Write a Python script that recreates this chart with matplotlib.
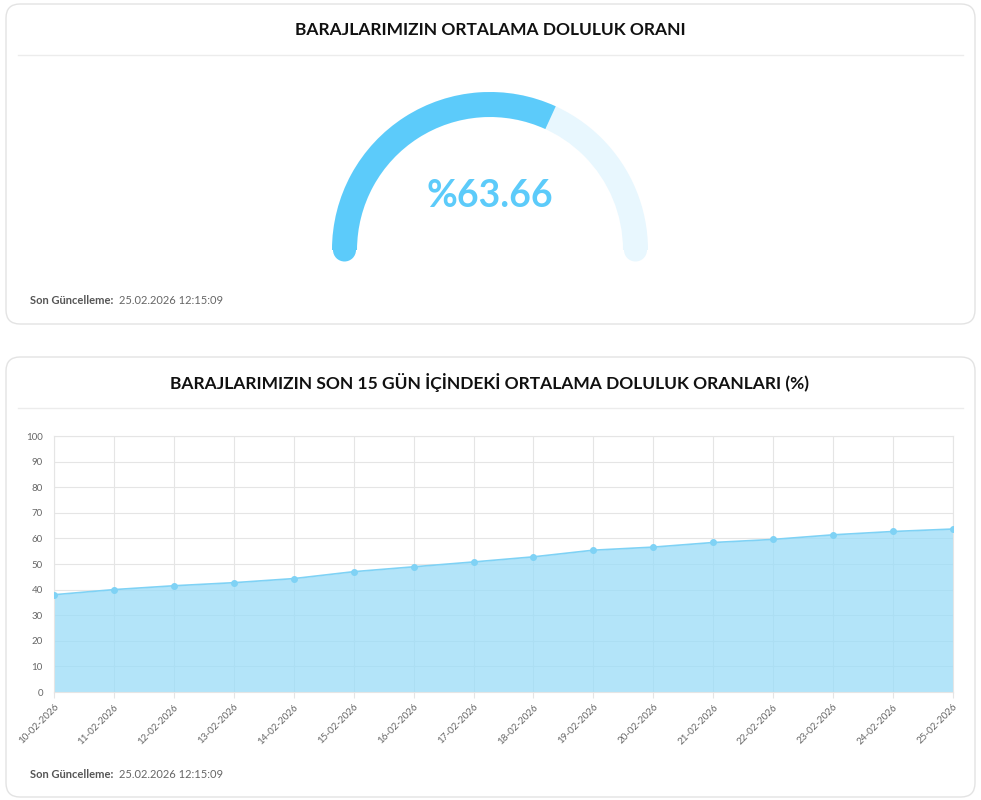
import matplotlib
matplotlib.use("Agg")
import matplotlib.pyplot as plt
from matplotlib.patches import FancyBboxPatch, Wedge, Circle
import numpy as np

plt.rcParams["font.family"] = ["Lato", "DejaVu Sans"]

DATES = ["10-02-2026", "11-02-2026", "12-02-2026", "13-02-2026", "14-02-2026",
         "15-02-2026", "16-02-2026", "17-02-2026", "18-02-2026", "19-02-2026",
         "20-02-2026", "21-02-2026", "22-02-2026", "23-02-2026", "24-02-2026",
         "25-02-2026"]
VALUES = [38.0, 40.0, 41.5, 42.7, 44.3, 47.0, 48.9, 50.8, 52.8, 55.4,
          56.6, 58.4, 59.6, 61.4, 62.7, 63.66]
GAUGE = 63.66

BLUE = "#5ccbfa"
TRACK = "#e8f7fe"
fig = plt.figure(figsize=(9.81, 8.0), dpi=100, facecolor="white")
bg = fig.add_axes([0, 0, 1, 1])
bg.set_xlim(0, 981)
bg.set_ylim(800, 0)
bg.axis("off")

# cards
for y0, y1 in [(4, 324), (357, 797)]:
    bg.add_patch(FancyBboxPatch((6, y0), 969, y1 - y0, boxstyle="round,pad=0,rounding_size=14",
                                facecolor="white", edgecolor="#e3e3e3", lw=1))
bg.plot([18, 963], [55, 55], color="#ececec", lw=1)
bg.plot([18, 963], [408, 408], color="#ececec", lw=1)

bg.text(490, 30, "BARAJLARIMIZIN ORTALAMA DOLULUK ORANI", ha="center", va="center",
        fontsize=12.5, fontweight="bold", color="#111111")
bg.text(490, 383, "BARAJLARIMIZIN SON 15 GÜN İÇİNDEKİ ORTALAMA DOLULUK ORANLARI (%)",
        ha="center", va="center", fontsize=12.5, fontweight="bold", color="#111111")
for yy in [301, 774]:
    bg.text(30, yy, "Son Güncelleme:", ha="left", va="center", fontsize=8,
            fontweight="bold", color="#555555")
    bg.text(119, yy, "25.02.2026 12:15:09", ha="left", va="center", fontsize=8, color="#666666")

# gauge (y axis inverted: angles are mirrored)
cx, cy, r, w = 490, 250, 158, 25
end = 180 * GAUGE / 100
bg.add_patch(Wedge((cx, cy), r, 180, 360, width=w, facecolor=TRACK, edgecolor="none"))
bg.add_patch(Wedge((cx, cy), r, 180, 180 + end, width=w, facecolor=BLUE, edgecolor="none"))
rm = r - w / 2
for ang, col in [(180, BLUE), (360, TRACK)]:
    a = np.deg2rad(ang)
    bg.add_patch(Circle((cx + rm * np.cos(a), cy), w / 2 - 1,
                        facecolor=col, edgecolor="none"))
bg.text(cx, 196, f"%{GAUGE:.2f}", ha="center", va="center", fontsize=27,
        fontweight="bold", color=BLUE)

# line chart
ax = fig.add_axes([54 / 981, 1 - 692 / 800, 899 / 981, 256 / 800])
ax.set_axisbelow(True)
x = np.arange(len(DATES))
ax.fill_between(x, VALUES, 0, color="#9adcf8", alpha=0.75, lw=0, zorder=2)
ax.plot(x, VALUES, color="#7fd2f5", lw=1.2, marker="o", ms=4,
        markerfacecolor="#7fd2f5", markeredgecolor="#7fd2f5", zorder=3)
ax.set_xlim(0, len(DATES) - 1)
ax.set_ylim(0, 100)
ax.set_yticks(range(0, 101, 10))
ax.set_xticks(x)
ax.set_xticklabels(DATES, rotation=45, ha="right", rotation_mode="anchor",
                   fontsize=7, color="#666666")
ax.tick_params(axis="y", labelsize=7, labelcolor="#666666", length=0, pad=8)
ax.tick_params(axis="x", length=4, color="#e5e5e5")
ax.grid(True, color="#e5e5e5", lw=0.8, zorder=0)
for s in ax.spines.values():
    s.set_color("#e5e5e5")

fig.savefig("out.png", dpi=100, facecolor="white")
